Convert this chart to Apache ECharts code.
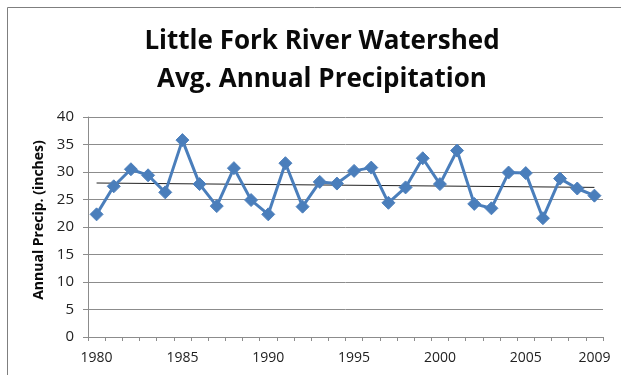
<!DOCTYPE html>
<html>
<head>
<meta charset="utf-8">
<script src="https://cdn.jsdelivr.net/npm/echarts@6/dist/echarts.min.js"></script>
<style>
html,body{margin:0;padding:0;background:#fff;}
#chart{width:621px;height:375px;}
</style>
</head>
<body>
<div id="chart"></div>
<script>
const years = ['1980','1981','1982','1983','1984','1985','1986','1987','1988','1989',
  '1990','1991','1992','1993','1994','1995','1996','1997','1998','1999',
  '2000','2001','2002','2003','2004','2005','2006','2007','2008','2009'];
const precip = [22.3, 27.4, 30.5, 29.4, 26.3, 35.8, 27.8, 23.8, 30.7, 24.9,
  22.3, 31.6, 23.7, 28.2, 27.9, 30.2, 30.8, 24.4, 27.2, 32.5,
  27.8, 33.9, 24.2, 23.4, 29.9, 29.8, 21.6, 28.8, 27.0, 25.7];
const trendEnds = [28.0, 27.2];
const yTicks = [0, 5, 10, 15, 20, 25, 30, 35, 40];
const titleLines = ['Little Fork River Watershed', 'Avg. Annual Precipitation'];
const yAxisTitle = 'Annual Precip. (inches)';

const trendData = years.map((y, i) => i === 0 ? trendEnds[0] : (i === years.length - 1 ? trendEnds[1] : null));

const chart = echarts.init(document.getElementById('chart'), null, {renderer: 'canvas'});
const FONT = '"Open Sans", "Liberation Sans", sans-serif';
chart.setOption({
  backgroundColor: '#fff',
  animation: false,
  graphic: [{
    type: 'rect',
    shape: {x: 7.5, y: 7.5, width: 640, height: 400},
    style: {fill: 'none', stroke: '#7f7f7f', lineWidth: 1},
    silent: true
  }],
  title: {
    text: titleLines.join('\n'),
    left: 317, textAlign: 'center', top: 18,
    textStyle: {fontFamily: FONT, fontWeight: 'bold', fontSize: 26, lineHeight: 38, color: '#0a0a0a'}
  },
  grid: {left: 88, right: 18, top: 117, bottom: 38, containLabel: false},
  xAxis: {
    type: 'category',
    data: years,
    boundaryGap: true,
    axisLine: {lineStyle: {color: '#8c8c8c', width: 1}},
    axisTick: {show: true, interval: 0, length: 4, inside: false, lineStyle: {color: '#8c8c8c'}},
    axisLabel: {
      interval: 0,
      formatter: (v, i) => (i % 5 === 0 || i === years.length - 1) ? v : '',
      fontFamily: FONT, fontSize: 14, color: '#222', margin: 14
    },
    splitLine: {show: false}
  },
  yAxis: {
    type: 'value',
    min: yTicks[0], max: yTicks[yTicks.length - 1], interval: 5,
    name: yAxisTitle,
    nameLocation: 'middle',
    nameGap: 42,
    nameRotate: 90,
    nameTextStyle: {fontFamily: FONT, fontWeight: 'bold', fontSize: 14, color: '#0a0a0a', padding: [0, 0, 0, 14]},
    axisLine: {show: true, lineStyle: {color: '#8c8c8c', width: 1}},
    axisTick: {show: true, length: 5, lineStyle: {color: '#8c8c8c'}},
    axisLabel: {fontFamily: FONT, fontSize: 15, color: '#222', margin: 14},
    splitLine: {show: true, lineStyle: {color: '#8c8c8c', width: 1}}
  },
  series: [{
    type: 'line',
    data: precip,
    lineStyle: {color: '#4A7EBB', width: 3},
    itemStyle: {color: '#4A7EBB', borderColor: '#4F81BD', borderWidth: 1},
    symbol: 'diamond',
    symbolSize: 13,
    z: 3
  }, {
    type: 'line',
    data: trendData,
    connectNulls: true,
    symbol: 'none',
    lineStyle: {color: '#222', width: 1},
    z: 2
  }]
});
</script>
</body>
</html>
